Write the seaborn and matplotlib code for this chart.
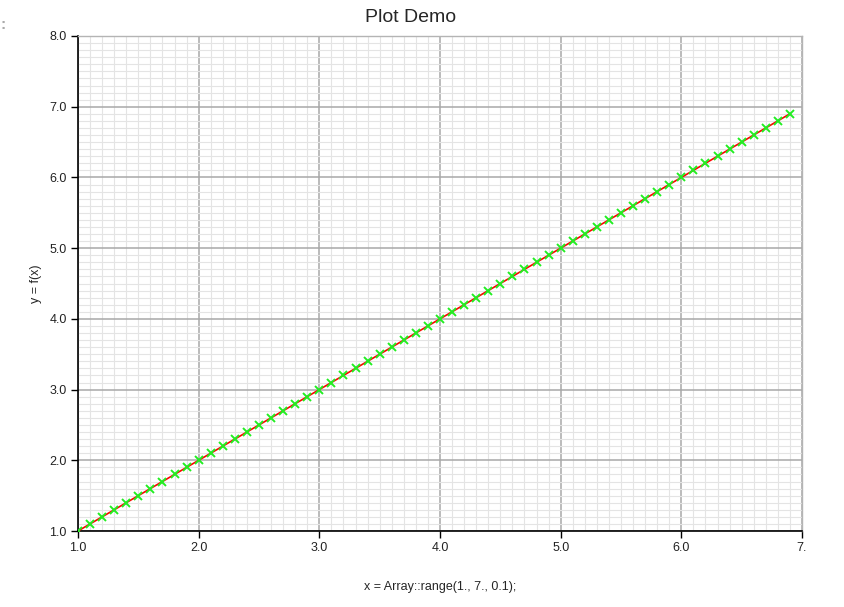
import seaborn as sns
import pandas as pd
import numpy as np
import matplotlib.pyplot as plt
import matplotlib.ticker as ticker

# x = Array::range(1., 7., 0.1); y = f(x)
xs = [1.0, 1.1, 1.2, 1.3, 1.4, 1.5, 1.6, 1.7, 1.8, 1.9,
      2.0, 2.1, 2.2, 2.3, 2.4, 2.5, 2.6, 2.7, 2.8, 2.9,
      3.0, 3.1, 3.2, 3.3, 3.4, 3.5, 3.6, 3.7, 3.8, 3.9,
      4.0, 4.1, 4.2, 4.3, 4.4, 4.5, 4.6, 4.7, 4.8, 4.9,
      5.0, 5.1, 5.2, 5.3, 5.4, 5.5, 5.6, 5.7, 5.8, 5.9,
      6.0, 6.1, 6.2, 6.3, 6.4, 6.5, 6.6, 6.7, 6.8, 6.9]
ys = [1.0, 1.1, 1.2, 1.3, 1.4, 1.5, 1.6, 1.7, 1.8, 1.9,
      2.0, 2.1, 2.2, 2.3, 2.4, 2.5, 2.6, 2.7, 2.8, 2.9,
      3.0, 3.1, 3.2, 3.3, 3.4, 3.5, 3.6, 3.7, 3.8, 3.9,
      4.0, 4.1, 4.2, 4.3, 4.4, 4.5, 4.6, 4.7, 4.8, 4.9,
      5.0, 5.1, 5.2, 5.3, 5.4, 5.5, 5.6, 5.7, 5.8, 5.9,
      6.0, 6.1, 6.2, 6.3, 6.4, 6.5, 6.6, 6.7, 6.8, 6.9]
xticks = [1.0, 2.0, 3.0, 4.0, 5.0, 6.0, 7.0]
xtick_labels = ["1.0", "2.0", "3.0", "4.0", "5.0", "6.0", "7."]
yticks = [1.0, 2.0, 3.0, 4.0, 5.0, 6.0, 7.0, 8.0]
ytick_labels = ["1.0", "2.0", "3.0", "4.0", "5.0", "6.0", "7.0", "8.0"]

data = pd.DataFrame({"x": xs, "y": ys})

sns.set_theme(style="white")
plt.rcParams["font.family"] = ["Liberation Sans", "DejaVu Sans"]

fig = plt.figure(figsize=(8.45, 6.07), dpi=100)
ax = fig.add_axes([78 / 845, 1 - 531 / 607, (802 - 78) / 845, (531 - 36) / 607])

sns.lineplot(data=data, x="x", y="y", ax=ax, color="red", linewidth=1.2,
             marker="x", markersize=5.5, markeredgewidth=1.4,
             markeredgecolor="#22ee22", zorder=3)

ax.set_xlim(1.0, 7.0)
ax.set_ylim(1.0, 8.0)
ax.set_xticks(xticks)
ax.set_xticklabels(xtick_labels)
ax.set_yticks(yticks)
ax.set_yticklabels(ytick_labels)
ax.xaxis.set_minor_locator(ticker.MultipleLocator(0.1))
ax.yaxis.set_minor_locator(ticker.MultipleLocator(0.1))

ax.grid(which="major", color="#a8a8a8", linewidth=1.1)
ax.grid(which="minor", color="#e4e4e4", linewidth=0.8)
ax.set_axisbelow(True)

for side in ["left", "bottom"]:
    ax.spines[side].set_color("black")
    ax.spines[side].set_linewidth(1.2)
for side in ["top", "right"]:
    ax.spines[side].set_color("#b4b4b4")
    ax.spines[side].set_linewidth(1.0)

ax.tick_params(which="major", direction="out", length=5, width=1, color="black",
               labelsize=9, labelcolor="#222222", left=True, bottom=True, pad=3)
ax.tick_params(which="minor", length=0)

fig.text(411 / 845, 1 - 18 / 607, "Plot Demo", fontsize=14, ha="center", va="center")
ax.set_xlabel("x = Array::range(1., 7., 0.1);", fontsize=9)
ax.set_ylabel("y = f(x)", fontsize=9)
ax.xaxis.set_label_coords(0.5, (531 - 587) / 495)
ax.yaxis.set_label_coords((36 - 78) / 724, 0.5)
ax.xaxis.label.set_va("center")
ax.yaxis.label.set_va("center")

fig.text(1 / 845, 1 - 25 / 607, ":", color="#aaaaaa", fontsize=11, va="center",
         fontweight="bold")

plt.savefig("out.png", dpi=100)
